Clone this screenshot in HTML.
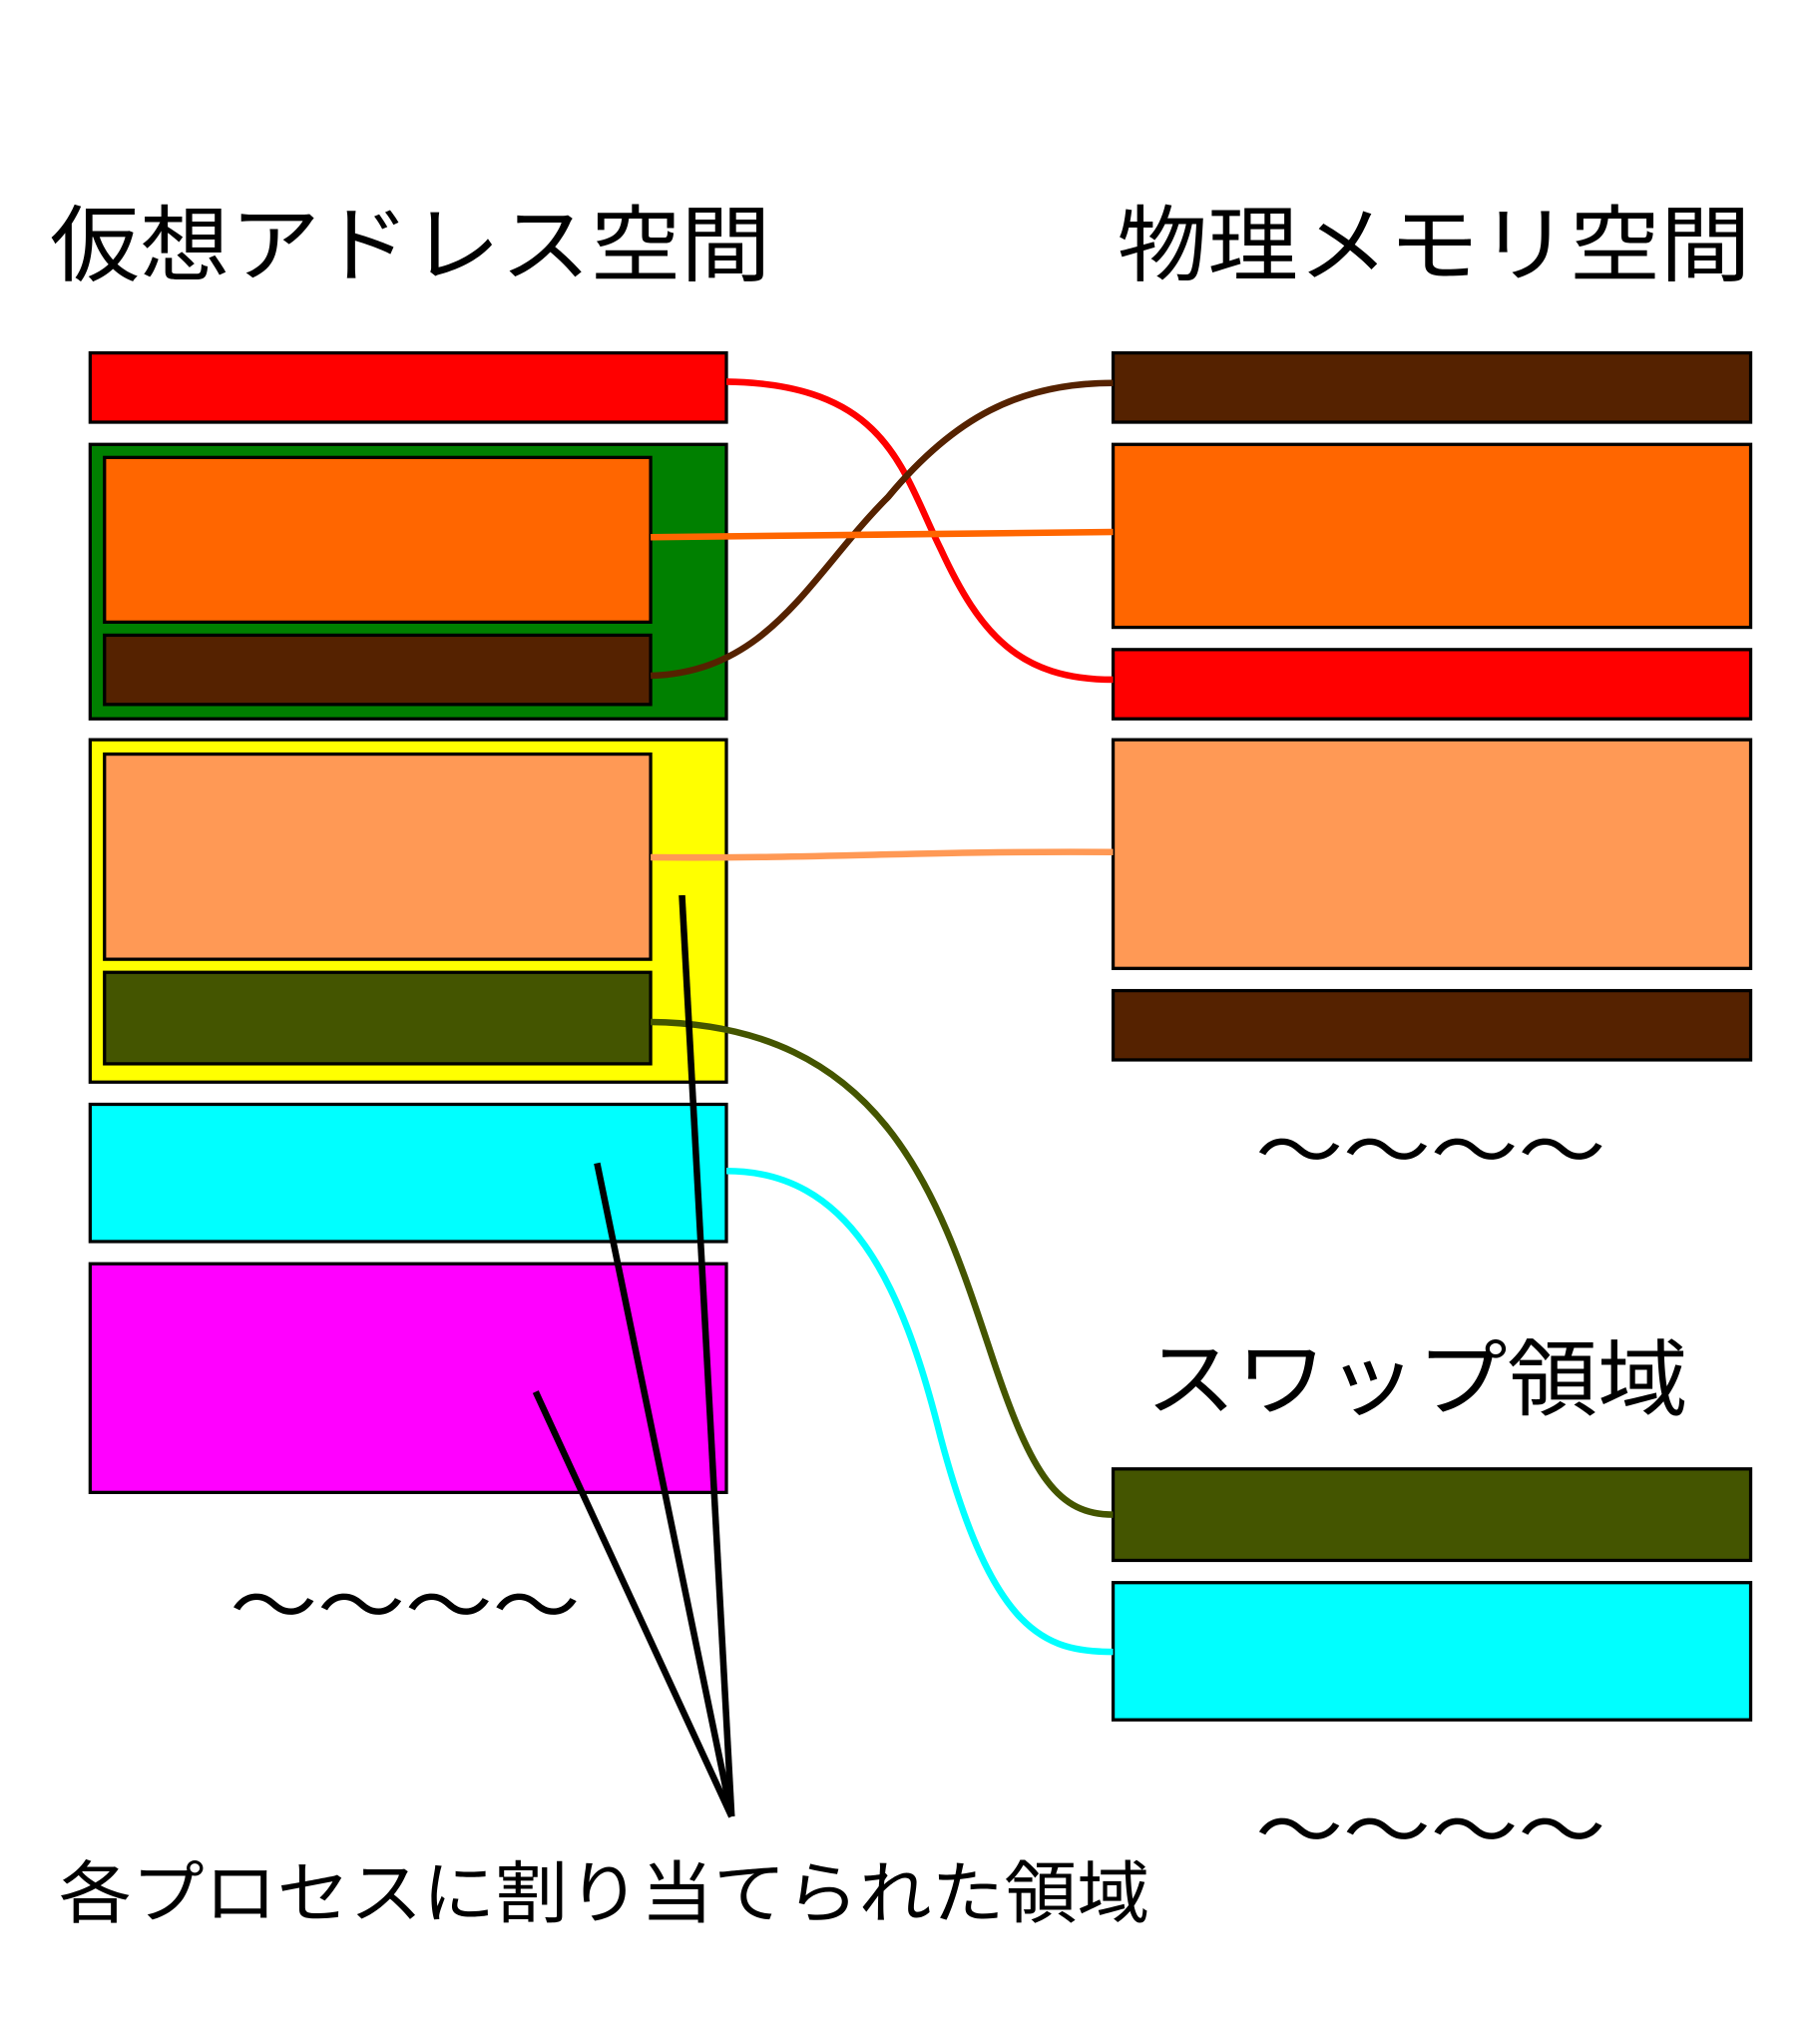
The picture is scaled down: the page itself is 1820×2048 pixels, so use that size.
<!DOCTYPE html>
<html><head><meta charset="utf-8"><style>html,body{margin:0;padding:0;background:#fff}svg{display:block}</style></head><body>
<svg width="1820" height="2048" viewBox="0 0 1390 1564" xmlns="http://www.w3.org/2000/svg" font-family="'Liberation Sans','Noto Sans CJK JP',sans-serif">
<rect width="1390" height="1564" fill="#fff"/>
<text x="38" y="210" font-size="64" textLength="552" lengthAdjust="spacingAndGlyphs">仮想アドレス空間</text>
<text x="855" y="210" font-size="64" textLength="485" lengthAdjust="spacingAndGlyphs">物理メモリ空間</text>
<text x="877" y="1078" font-size="64" textLength="415" lengthAdjust="spacingAndGlyphs">スワップ領域</text>
<text x="45" y="1467" font-size="52" textLength="835" lengthAdjust="spacingAndGlyphs">各プロセスに割り当てられた領域</text>
<g font-size="60">
<text x="176" y="1250" textLength="268" lengthAdjust="spacingAndGlyphs">〜〜〜〜</text>
<text x="961" y="902" textLength="268" lengthAdjust="spacingAndGlyphs">〜〜〜〜</text>
<text x="961" y="1422" textLength="268" lengthAdjust="spacingAndGlyphs">〜〜〜〜</text>
</g>
<g stroke="#000" stroke-width="2.5">
<rect x="69" y="270" width="487" height="53" fill="#ff0000"/>
<rect x="69" y="340" width="487" height="210" fill="#008000"/>
<rect x="80" y="350" width="418" height="126" fill="#ff6600"/>
<rect x="80" y="486" width="418" height="53" fill="#552200"/>
<rect x="69" y="566" width="487" height="262" fill="#ffff00"/>
<rect x="80" y="577" width="418" height="157" fill="#ff9955"/>
<rect x="80" y="744" width="418" height="70" fill="#445500"/>
<rect x="69" y="845" width="487" height="105" fill="#00ffff"/>
<rect x="69" y="967" width="487" height="175" fill="#ff00ff"/>
<rect x="852" y="270" width="488" height="53" fill="#552200"/>
<rect x="852" y="340" width="488" height="140" fill="#ff6600"/>
<rect x="852" y="497" width="488" height="53" fill="#ff0000"/>
<rect x="852" y="566" width="488" height="175" fill="#ff9955"/>
<rect x="852" y="758" width="488" height="53" fill="#552200"/>
<rect x="852" y="1124" width="488" height="70" fill="#445500"/>
<rect x="852" y="1211" width="488" height="105" fill="#00ffff"/>
</g>
<g fill="none" stroke-width="5">
<path d="M556,292 C680,294 690,360 720,420 C750,485 780,520 852,520" stroke="#ff0000"/>
<path d="M498,517 C590,514 620,440 680,380 C730,320 780,293 852,293" stroke="#552200"/>
<path d="M498,411 L852,407" stroke="#ff6600"/>
<path d="M498,656 C640,657 700,651 852,652" stroke="#ff9955"/>
<path d="M498,782 C680,784 720,920 760,1040 C790,1130 810,1159 852,1159" stroke="#445500"/>
<path d="M556,896 C650,896 690,980 720,1100 C760,1250 800,1264 852,1264" stroke="#00ffff"/>
</g>
<g stroke="#000" stroke-width="5" fill="none">
<path d="M560,1390 L522,685"/>
<path d="M560,1390 L457,890"/>
<path d="M560,1390 L410,1065"/>
</g>
</svg>
</body></html>
